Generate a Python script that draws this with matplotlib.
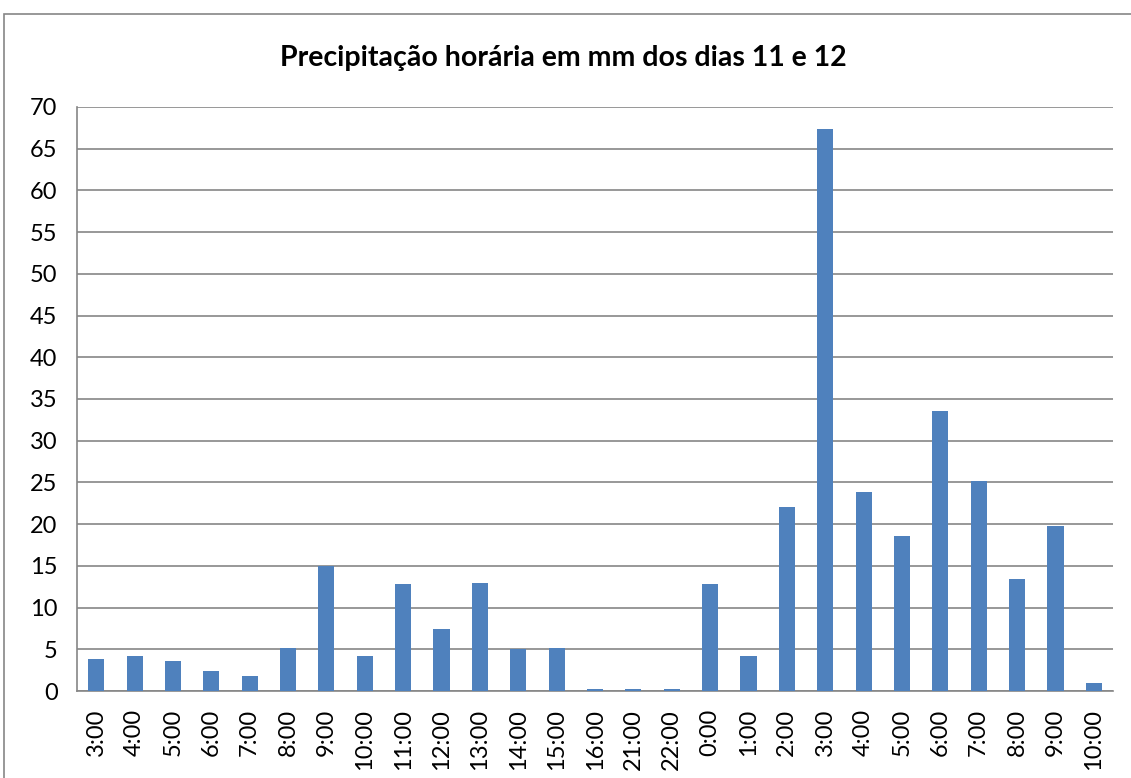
import matplotlib.pyplot as plt
import numpy as np
from matplotlib.patches import Rectangle

plt.rcParams['font.family'] = ['Lato', 'DejaVu Sans']

# hours (day 11 then day 12)
horas = ["3:00", "4:00", "5:00", "6:00", "7:00", "8:00", "9:00", "10:00",
         "11:00", "12:00", "13:00", "14:00", "15:00", "16:00", "21:00",
         "22:00", "0:00", "1:00", "2:00", "3:00", "4:00", "5:00", "6:00",
         "7:00", "8:00", "9:00", "10:00"]
precip = [3.8, 4.2, 3.6, 2.4, 1.8, 5.2, 15.0, 4.2, 12.8, 7.4, 13.0, 5.0,
          5.2, 0.2, 0.2, 0.2, 12.8, 4.2, 22.0, 67.4, 23.8, 18.6, 33.6,
          25.2, 13.4, 19.8, 1.0]

fig = plt.figure(figsize=(11.31, 7.78), dpi=100)
ax = fig.add_axes([0.0681, 0.1118, 0.916, 0.7507])

x = np.arange(len(horas))
ax.bar(x, precip, width=0.42, color="#4F81BD", zorder=3)

ax.set_xlim(-0.5, len(horas) - 0.5)
ax.set_ylim(0, 70)
ax.set_yticks(np.arange(0, 71, 5))
ax.set_xticks(x)
ax.set_xticklabels(horas, rotation=90)
ax.tick_params(axis='both', labelsize=17, length=0)
ax.tick_params(axis='y', pad=14)
ax.tick_params(axis='x', pad=13)

ax.yaxis.grid(True, color="#868686", linewidth=1.2, zorder=0)
for s in ["top", "right"]:
    ax.spines[s].set_visible(False)
ax.spines["left"].set_color("#868686")
ax.spines["bottom"].set_color("#868686")
ax.spines["left"].set_linewidth(1.2)
ax.spines["bottom"].set_linewidth(1.2)

fig.text(0.498, 0.926, "Precipitação horária em mm dos dias 11 e 12",
         ha="center", va="center", fontsize=20.5, fontweight="bold")

# outer chart frame (cut off at right/bottom)
fig.patches.append(Rectangle((4 / 1131, -0.1), 1.2, 1.1 - 14 / 778,
                             transform=fig.transFigure, fill=False,
                             edgecolor="#868686", linewidth=1.2))

fig.savefig("out.png", dpi=100)
